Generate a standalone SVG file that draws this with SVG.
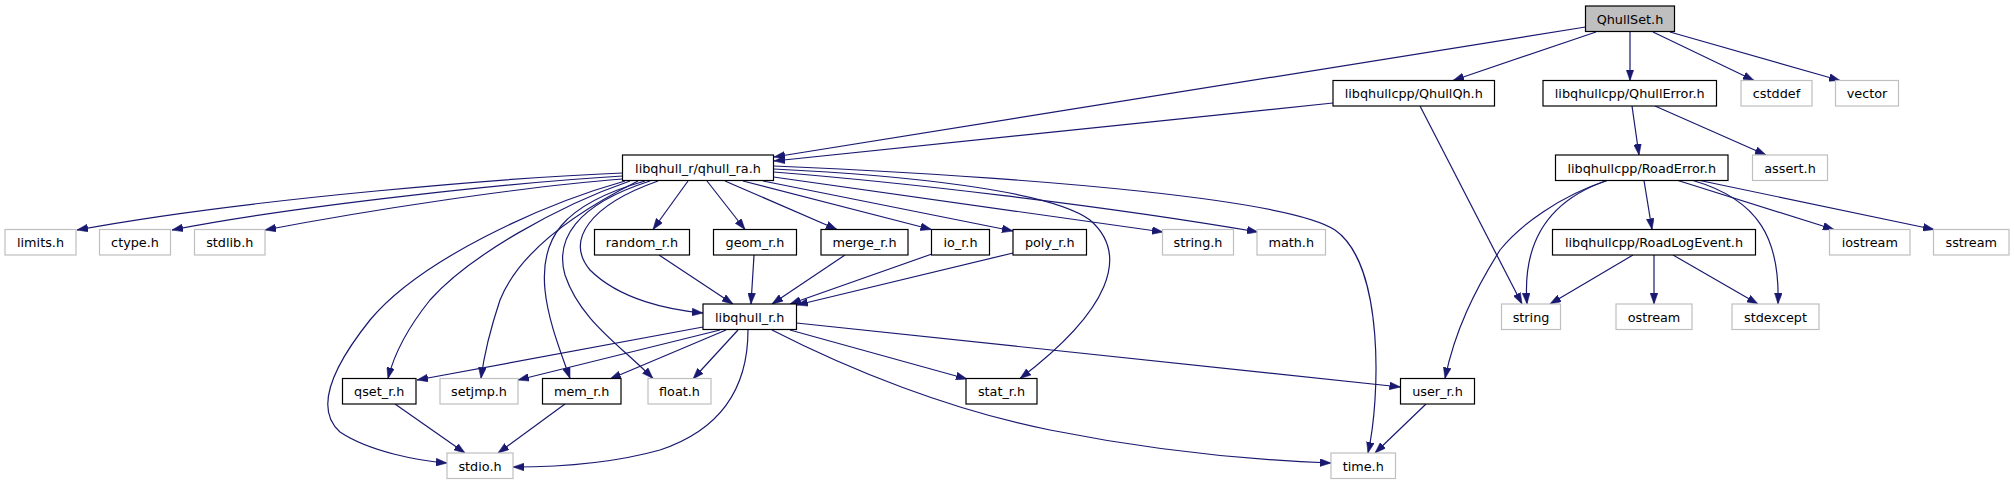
<svg xmlns="http://www.w3.org/2000/svg" width="2014" height="485" viewBox="0 0 2014 485">
<style>
.n rect{fill:#fff;stroke:#000;stroke-width:1.2}
.g rect{fill:#fff;stroke:#bfbfbf;stroke-width:1.2}
.root rect{fill:#bfbfbf;stroke:#000;stroke-width:1.2}
text{font-family:"DejaVu Sans","Liberation Sans",sans-serif;font-size:12.8px;fill:#000;text-anchor:middle}
#edges path{fill:none;stroke:#191970;stroke-width:1.2;marker-end:url(#ah)}
</style>
<defs>
<marker id="ah" viewBox="0 0 10 7" refX="10" refY="3.5" markerWidth="11" markerHeight="8" markerUnits="userSpaceOnUse" orient="auto">
<path d="M0,0 L10,3.5 L0,7 z" fill="#191970" stroke="#191970" stroke-width="0.5"/>
</marker>
</defs>
<rect width="2014" height="485" fill="#fff"/>
<g id="edges">
<path d="M1585.5,27 L774,157"/>
<path d="M1333,103 L774,161"/>
<path d="M1596,32 L1453,80.5"/>
<path d="M1630,32 L1630,80.5"/>
<path d="M1653,32 L1754,80.5"/>
<path d="M1670,32 L1840,80.5"/>
<path d="M1420,106 L1522,304"/>
<path d="M1632,106 L1639,155"/>
<path d="M1655,106 L1766,155"/>
<path d="M1644,180.5 L1652,229.5"/>
<path d="M1607,180.5 C1550,200 1522,240 1527,304"/>
<path d="M1607,180.5 C1560,196 1520,225 1500,250 C1475,290 1455,330 1445,378.5"/>
<path d="M1693,180.5 C1760,200 1780,240 1778,304"/>
<path d="M1678,180.5 L1834,229.5"/>
<path d="M1700,180.5 L1934,229.5"/>
<path d="M1633,255 L1550,304"/>
<path d="M1654,255 L1654,304"/>
<path d="M1673,255 L1758,304"/>
<path d="M1426,404 L1375,453"/>
<path d="M622.5,173 C520,177 250,198 77,230"/>
<path d="M622.5,176 C520,182 300,205 172,230"/>
<path d="M622.5,179 C520,187 370,210 265,230"/>
<path d="M625,181 C540,205 420,260 370,320 C330,370 315,410 340,432 C370,452 420,461 447,463"/>
<path d="M630,181 C560,205 470,255 430,300 C410,325 395,350 388,378.5"/>
<path d="M638,181 C580,210 520,250 500,300 C490,330 484,355 481,378.5"/>
<path d="M645,181 C560,205 540,240 545,290 C548,320 560,350 570,378.5"/>
<path d="M650,181 C575,205 555,240 565,275 C580,320 620,345 653,378.5"/>
<path d="M658,181 C590,205 565,240 590,270 C620,300 670,310 703,313"/>
<path d="M688,181 L653,229.5"/>
<path d="M707,181 L745,229.5"/>
<path d="M725,181 L837,229.5"/>
<path d="M743,181 L931.5,229.5"/>
<path d="M763,181 L1013,231"/>
<path d="M773.5,177 L1163,232"/>
<path d="M773.5,172 C900,182 1100,205 1258,232"/>
<path d="M773.5,169 C900,175 1050,190 1090,220 C1130,255 1110,310 1020,378.5"/>
<path d="M773.5,166 C1050,178 1290,200 1335,230 C1385,265 1380,400 1368,453"/>
<path d="M703,327 L417,380"/>
<path d="M720,330 L518,380"/>
<path d="M726,330 L610,379"/>
<path d="M738,330 L693,379"/>
<path d="M748,330 C748,390 720,430 660,450 C610,464 560,467 513,467"/>
<path d="M790,330 L967,379"/>
<path d="M772,330 C850,370 950,410 1050,430 C1150,450 1250,460 1331,463"/>
<path d="M796.5,323 L1400.5,387"/>
<path d="M395,404 L465,453"/>
<path d="M565,404 L498,453"/>
<path d="M659,255 L733,304"/>
<path d="M754,255 L751,304"/>
<path d="M845,255 L772,304"/>
<path d="M932,254 L790,304"/>
<path d="M1013,253 L797,305"/>
</g>
<g id="QhullSet" class="root"><rect x="1585.5" y="6" width="89" height="25.5"/><text x="1630" y="23.5">QhullSet.h</text></g>
<g id="QhullQh" class="n"><rect x="1333" y="80.5" width="161.5" height="25.5"/><text x="1413.75" y="98">libqhullcpp/QhullQh.h</text></g>
<g id="QhullError" class="n"><rect x="1543" y="80.5" width="173.5" height="25.5"/><text x="1629.75" y="98">libqhullcpp/QhullError.h</text></g>
<g id="cstddef" class="g"><rect x="1741" y="80.5" width="71" height="25.5"/><text x="1776.5" y="98">cstddef</text></g>
<g id="vector" class="g"><rect x="1835.5" y="80.5" width="63" height="25.5"/><text x="1867" y="98">vector</text></g>
<g id="qhull_ra" class="n"><rect x="622.5" y="155" width="151" height="25.5"/><text x="698" y="172.5">libqhull_r/qhull_ra.h</text></g>
<g id="RoadError" class="n"><rect x="1555.5" y="155" width="172.5" height="25.5"/><text x="1641.75" y="172.5">libqhullcpp/RoadError.h</text></g>
<g id="assert" class="g"><rect x="1752.5" y="155" width="75" height="25.5"/><text x="1790" y="172.5">assert.h</text></g>
<g id="limits" class="g"><rect x="5" y="229.5" width="71" height="25.5"/><text x="40.5" y="247">limits.h</text></g>
<g id="ctype" class="g"><rect x="99.5" y="229.5" width="71" height="25.5"/><text x="135" y="247">ctype.h</text></g>
<g id="stdlib" class="g"><rect x="194.5" y="229.5" width="70.5" height="25.5"/><text x="229.75" y="247">stdlib.h</text></g>
<g id="random_r" class="n"><rect x="594.5" y="229.5" width="95" height="25.5"/><text x="642" y="247">random_r.h</text></g>
<g id="geom_r" class="n"><rect x="713.5" y="229.5" width="83" height="25.5"/><text x="755" y="247">geom_r.h</text></g>
<g id="merge_r" class="n"><rect x="821" y="229.5" width="87" height="25.5"/><text x="864.5" y="247">merge_r.h</text></g>
<g id="io_r" class="n"><rect x="931.5" y="229.5" width="58" height="25.5"/><text x="960.5" y="247">io_r.h</text></g>
<g id="poly_r" class="n"><rect x="1013" y="229.5" width="73.5" height="25.5"/><text x="1049.75" y="247">poly_r.h</text></g>
<g id="string_h" class="g"><rect x="1162.5" y="229.5" width="71" height="25.5"/><text x="1198" y="247">string.h</text></g>
<g id="math" class="g"><rect x="1257" y="229.5" width="68.5" height="25.5"/><text x="1291.25" y="247">math.h</text></g>
<g id="RoadLogEvent" class="n"><rect x="1552.5" y="229.5" width="203" height="25.5"/><text x="1654" y="247">libqhullcpp/RoadLogEvent.h</text></g>
<g id="iostream" class="g"><rect x="1829.5" y="229.5" width="80.5" height="25.5"/><text x="1869.75" y="247">iostream</text></g>
<g id="sstream" class="g"><rect x="1933.5" y="229.5" width="75.5" height="25.5"/><text x="1971.25" y="247">sstream</text></g>
<g id="libqhull_r" class="n"><rect x="703" y="304" width="93.5" height="25.5"/><text x="749.75" y="321.5">libqhull_r.h</text></g>
<g id="string" class="g"><rect x="1501.5" y="304" width="59" height="25.5"/><text x="1531" y="321.5">string</text></g>
<g id="ostream" class="g"><rect x="1616" y="304" width="76" height="25.5"/><text x="1654" y="321.5">ostream</text></g>
<g id="stdexcept" class="g"><rect x="1732" y="304" width="87" height="25.5"/><text x="1775.5" y="321.5">stdexcept</text></g>
<g id="qset_r" class="n"><rect x="342.5" y="378.5" width="73.5" height="25.5"/><text x="379.25" y="396">qset_r.h</text></g>
<g id="setjmp" class="g"><rect x="440" y="378.5" width="78" height="25.5"/><text x="479" y="396">setjmp.h</text></g>
<g id="mem_r" class="n"><rect x="542.5" y="378.5" width="78.5" height="25.5"/><text x="581.75" y="396">mem_r.h</text></g>
<g id="float" class="g"><rect x="648" y="378.5" width="63" height="25.5"/><text x="679.5" y="396">float.h</text></g>
<g id="stat_r" class="n"><rect x="966" y="378.5" width="71" height="25.5"/><text x="1001.5" y="396">stat_r.h</text></g>
<g id="user_r" class="n"><rect x="1400.5" y="378.5" width="74" height="25.5"/><text x="1437.5" y="396">user_r.h</text></g>
<g id="stdio" class="g"><rect x="447" y="453" width="66" height="25.5"/><text x="480" y="470.5">stdio.h</text></g>
<g id="time" class="g"><rect x="1331" y="453" width="64.5" height="25.5"/><text x="1363.25" y="470.5">time.h</text></g>
</svg>
